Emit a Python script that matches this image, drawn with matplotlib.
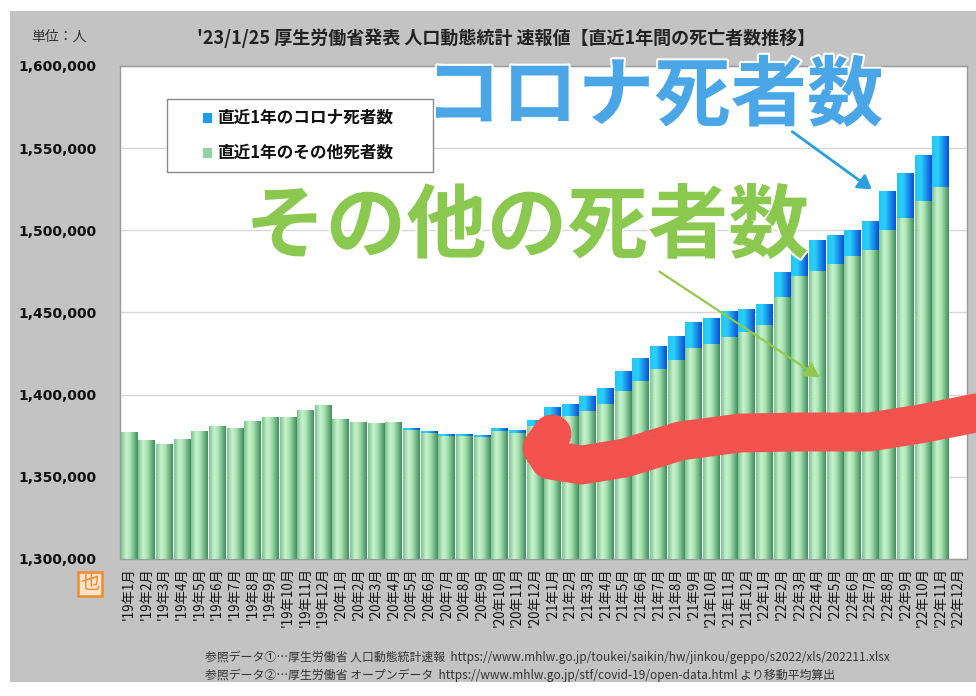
import numpy as np
import matplotlib
matplotlib.use('Agg')
import matplotlib.pyplot as plt
from matplotlib.colors import LinearSegmentedColormap
from matplotlib.patches import Rectangle, FancyArrowPatch
from matplotlib.lines import Line2D
import matplotlib.patheffects as pe
from matplotlib.ticker import FuncFormatter

plt.rcParams['font.family'] = ['Noto Sans CJK JP', 'DejaVu Sans']

# ---------------- data ----------------
months = [f"'{y}年{m}月" for y in (19, 20, 21, 22) for m in range(1, 13)]

other_deaths = [
    1377100, 1372400, 1370000, 1373200, 1377700, 1380700, 1379700, 1384000, 1386400, 1386600, 1390500, 1393900,
    1385200, 1383400, 1382800, 1383100, 1378800, 1376700, 1375100, 1374800, 1374100, 1377700, 1376400, 1381000,
    1387200, 1386800, 1389800, 1394300, 1402000, 1408100, 1415600, 1421300, 1428200, 1430800, 1435100, 1437900,
    1442200, 1459200, 1472200, 1475000, 1479700, 1484100, 1488200, 1499900, 1507800, 1517600, 1526300, np.nan,
]
covid_deaths = [
    0, 0, 0, 0, 0, 0, 0, 0, 0, 0, 0, 0,
    0, 0, 0, 500, 900, 1000, 1000, 1300, 1600, 1800, 2100, 3400,
    5500, 7500, 9600, 9500, 12200, 14200, 14200, 14600, 16000, 15800, 15800, 14200,
    13000, 15400, 14000, 19300, 17600, 16300, 17200, 23800, 27100, 28400, 31200, np.nan,
]
legend_labels = ['直近1年のコロナ死者数', '直近1年のその他死者数']
legend_colors = ['#1a9ff0', '#8fd3a0']
title = "'23/1/25 厚生労働省発表 人口動態統計 速報値【直近1年間の死亡者数推移】"
y_ticks = [1300000, 1350000, 1400000, 1450000, 1500000, 1550000, 1600000]

# ---------------- figure ----------------
W, H = 976, 696
fig = plt.figure(figsize=(W / 100, H / 100), dpi=100)
fig.patch.set_facecolor('white')

def P(x, y):
    return (x / W, 1 - y / H)

# gray panel background
fig.patches.append(Rectangle(P(10, 682), (W - 10) / W, (682 - 11) / H,
                             transform=fig.transFigure, facecolor='#c3c3c3',
                             edgecolor='none', zorder=-10))

ax = fig.add_axes([120 / W, 1 - 559 / H, 847 / W, (559 - 66) / H])
ax.set_facecolor('white')

x = np.arange(len(months))
other = np.array(other_deaths, dtype=float)
covid = np.array(covid_deaths, dtype=float)
base = y_ticks[0]
bw = 0.92

green_cmap = LinearSegmentedColormap.from_list('g', [(0, '#7cc48f'), (0.3, '#c8f2cd'), (0.55, '#a9e2b3'), (1.0, '#3f8f5d')])
blue_cmap = LinearSegmentedColormap.from_list('b', [(0, '#22c6f4'), (0.35, '#2ad0fb'), (1.0, '#0a4ed6')])
grad = np.linspace(0, 1, 64).reshape(1, -1)

bars_o = ax.bar(x, other - base, bottom=base, width=bw, color='#a9e2b3', edgecolor='none', zorder=2)
bars_c = ax.bar(x, covid, bottom=other, width=bw, color='#2ab0f0', edgecolor='none', zorder=2)

for bars, cmap in ((bars_o, green_cmap), (bars_c, blue_cmap)):
    for r in bars:
        h = r.get_height()
        if not np.isfinite(h) or h <= 0:
            continue
        x0, y0 = r.get_x(), r.get_y()
        im = ax.imshow(grad, cmap=cmap, aspect='auto', interpolation='bilinear',
                       extent=[x0, x0 + r.get_width(), y0, y0 + h], zorder=3)
        im.set_clip_path(r)

ax.set_xlim(-0.5, len(months) - 0.5)
ax.set_ylim(y_ticks[0], y_ticks[-1])
ax.set_yticks(y_ticks)
ax.yaxis.set_major_formatter(FuncFormatter(lambda v, p: f"{int(v):,}"))
ax.set_xticks(x)
ax.set_xticklabels(months, rotation=90, fontsize=9.6, color='#111111',
                   family=['Noto Sans CJK JP', 'DejaVu Sans'])
for lab in ax.get_yticklabels():
    lab.set_fontfamily('DejaVu Sans')
    lab.set_fontweight('bold')
    lab.set_fontsize(10)
    lab.set_color('#111111')
ax.tick_params(axis='y', length=0, pad=17)
ax.tick_params(axis='x', length=0, pad=6)
ax.grid(axis='y', color='#d6d6d6', linewidth=1, zorder=1)
ax.set_axisbelow(True)
for s in ax.spines.values():
    s.set_color('#9a9a9a')
    s.set_linewidth(1)

# legend (box, swatches and labels)
fig.patches.append(Rectangle(P(167, 172), 266 / W, 73 / H, transform=fig.transFigure,
                             facecolor='white', edgecolor='#8a8a8a', linewidth=1, zorder=20))
for k, (lab, col) in enumerate(zip(legend_labels, legend_colors)):
    yc = 118 + 35 * k
    fig.patches.append(Rectangle(P(203, yc + 5), 9 / W, 10 / H, transform=fig.transFigure,
                                 facecolor=col, edgecolor='none', zorder=21))
    fig.text(*P(217, yc), lab, ha='left', va='center', fontsize=12, fontweight='bold',
             color='#111111', zorder=21)

# title and unit
fig.text(*P(506, 38), title, ha='center', va='center', fontsize=13, fontweight='bold', color='#222222')
fig.text(*P(59, 37), '単位：人', ha='center', va='center', fontsize=10, color='#333333')

# orange badge
fig.text(*P(90, 584), '也', ha='center', va='center', fontsize=14, color='#f08a30',
         bbox=dict(boxstyle='square,pad=0.1', facecolor='#fbe3cc', edgecolor='#f08a30', linewidth=1.8))

# footer
fig.text(*P(205, 657), '参照データ①…厚生労働省 人口動態統計速報  https://www.mhlw.go.jp/toukei/saikin/hw/jinkou/geppo/s2022/xls/202211.xlsx',
         ha='left', va='center', fontsize=8.55, color='#333333')
fig.text(*P(205, 675), '参照データ②…厚生労働省 オープンデータ  https://www.mhlw.go.jp/stf/covid-19/open-data.html より移動平均算出',
         ha='left', va='center', fontsize=8.55, color='#333333')

# big annotations
glow = [pe.withStroke(linewidth=3, foreground='white')]
fig.text(*P(425, 97), 'コロナ死者数', ha='left', va='center', fontsize=55, fontweight='bold',
         color='#4aa6e6', path_effects=glow, zorder=30)
fig.text(*P(245, 228), 'その他の死者数', ha='left', va='center', fontsize=58, fontweight='bold',
         color='#8bc850', path_effects=glow, zorder=30)

fig.patches.append(FancyArrowPatch(P(790, 130), P(874, 191), transform=fig.transFigure,
                                   arrowstyle='-|>,head_length=8,head_width=5', color='#2a9fe0',
                                   linewidth=2, zorder=31))
fig.patches.append(FancyArrowPatch(P(657, 270), P(822, 379), transform=fig.transFigure,
                                   arrowstyle='-|>,head_length=9,head_width=5', color='#92c850',
                                   linewidth=1.6, zorder=31))

# hand-drawn red stroke
stroke_x = [552, 542, 550, 582, 625, 680, 740, 800, 870, 920, 976]
stroke_y = [434, 448, 460, 465, 458, 441, 433, 432, 432, 424, 413]
fig.lines.append(Line2D([v / W for v in stroke_x], [1 - v / H for v in stroke_y],
                        transform=fig.transFigure, color='#f4524f', linewidth=28,
                        solid_capstyle='round', solid_joinstyle='round', zorder=25))

fig.savefig('out.png', dpi=100, facecolor='white')
